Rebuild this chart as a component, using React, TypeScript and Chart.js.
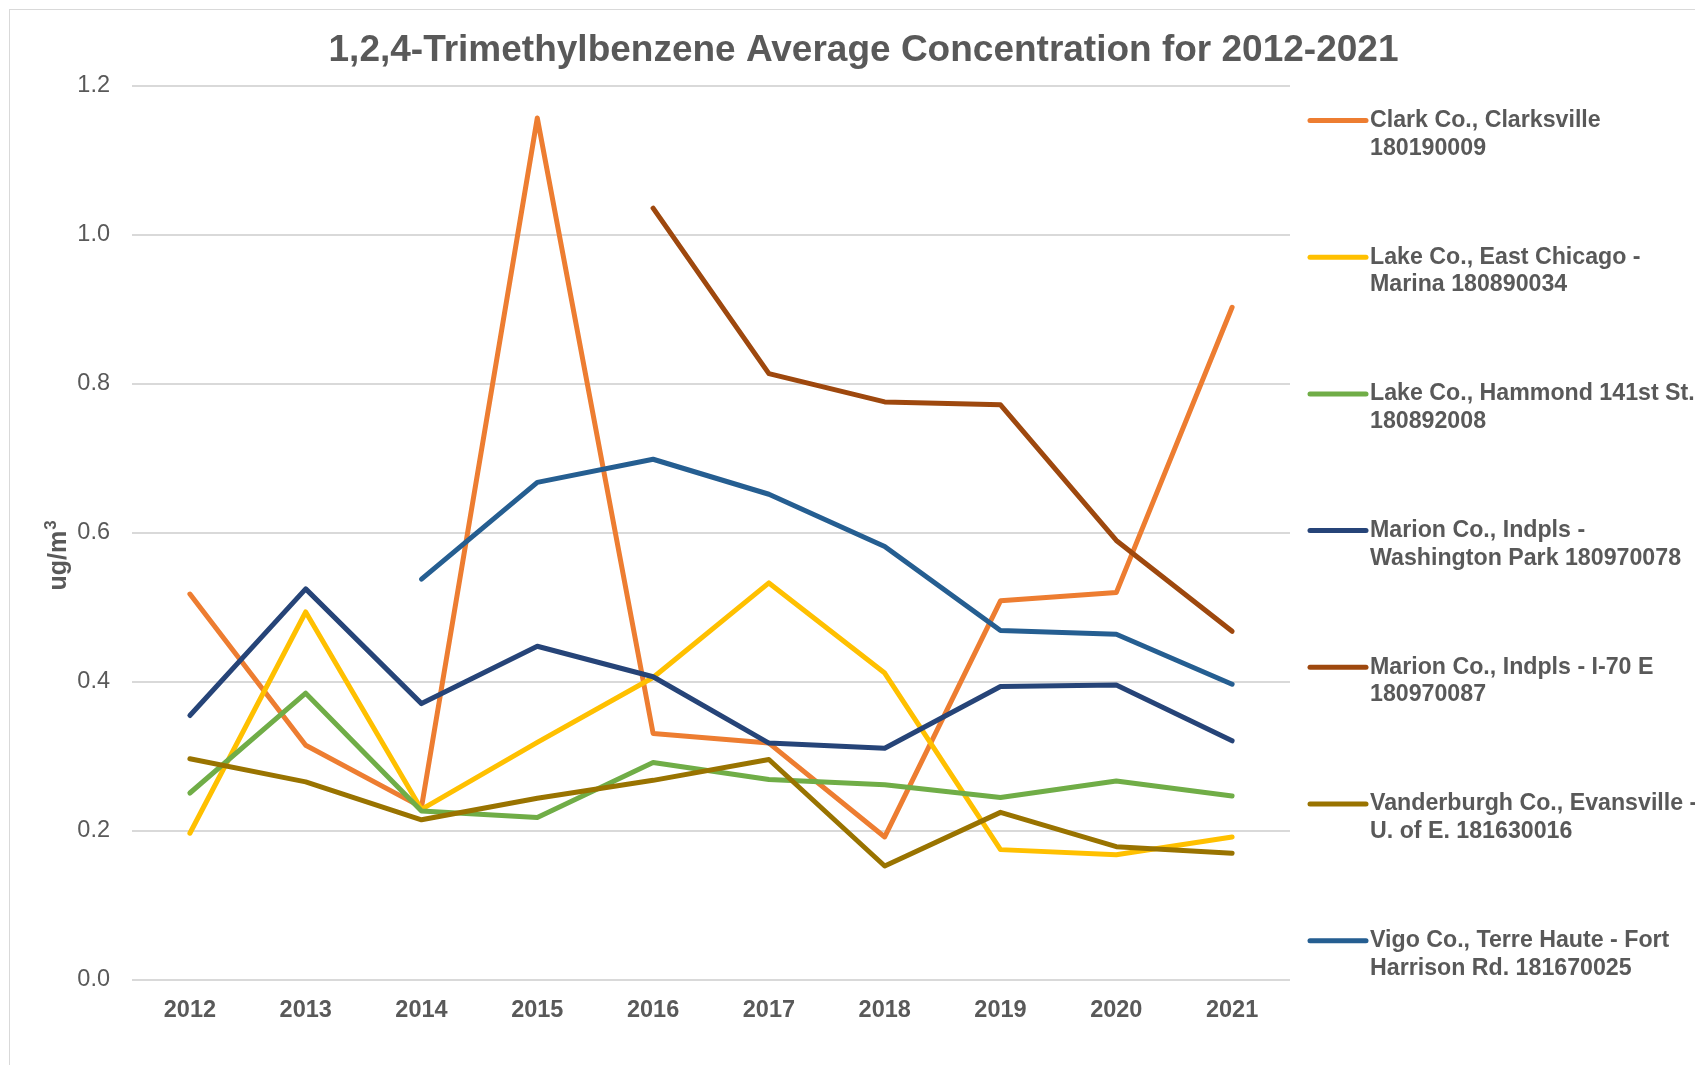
import React, { useEffect, useRef } from "react";
import { Chart, registerables } from "chart.js";

Chart.register(...registerables);

const FONT = "'Liberation Sans', Arial, Helvetica, sans-serif";
const TEXT_COLOR = "#595959";

const titleText = "1,2,4-Trimethylbenzene Average Concentration for 2012-2021";
const yTitleMain = "ug/m";
const yTitleSup = "3";

const years = ["2012", "2013", "2014", "2015", "2016", "2017", "2018", "2019", "2020", "2021"];
const yTicks = [0, 0.2, 0.4, 0.6, 0.8, 1.0, 1.2];

const clarkClarksville = [0.518, 0.315, 0.232, 1.157, 0.331, 0.318, 0.192, 0.509, 0.52, 0.903];
const lakeEastChicago = [0.197, 0.494, 0.229, 0.319, 0.406, 0.533, 0.412, 0.175, 0.168, 0.192];
const lakeHammond = [0.251, 0.385, 0.227, 0.218, 0.292, 0.269, 0.262, 0.245, 0.267, 0.247];
const marionWashingtonPark = [0.355, 0.525, 0.371, 0.448, 0.407, 0.318, 0.311, 0.394, 0.396, 0.321];
const marionI70 = [null, null, null, null, 1.036, 0.814, 0.776, 0.772, 0.59, 0.468];
const vanderburghEvansville = [0.297, 0.266, 0.215, 0.244, 0.268, 0.296, 0.153, 0.225, 0.179, 0.17];
const vigoTerreHaute = [null, null, 0.538, 0.668, 0.699, 0.652, 0.582, 0.469, 0.464, 0.397];

const seriesLabelLines: string[][] = [
  ["Clark Co., Clarksville", "180190009"],
  ["Lake Co., East Chicago -", "Marina 180890034"],
  ["Lake Co., Hammond 141st St.", "180892008"],
  ["Marion Co., Indpls -", "Washington Park 180970078"],
  ["Marion Co., Indpls - I-70 E", "180970087"],
  ["Vanderburgh Co., Evansville -", "U. of E. 181630016"],
  ["Vigo Co., Terre Haute - Fort", "Harrison Rd. 181670025"],
];
const seriesColors = ["#ED7D31", "#FFC000", "#70AD47", "#264478", "#9E480E", "#997300", "#255E91"];
const seriesValues = [
  clarkClarksville,
  lakeEastChicago,
  lakeHammond,
  marionWashingtonPark,
  marionI70,
  vanderburghEvansville,
  vigoTerreHaute,
];

const decorPlugin = {
  id: "excelDecor",
  afterDraw(chart: any) {
    const { ctx, chartArea } = chart;
    ctx.save();
    ctx.fillStyle = TEXT_COLOR;

    // Title
    ctx.font = `bold 37px ${FONT}`;
    ctx.textAlign = "center";
    ctx.textBaseline = "middle";
    ctx.fillText(titleText, 853.5, 40.5);

    // Y axis title (rotated, with superscript)
    ctx.save();
    ctx.translate(49, 546);
    ctx.rotate(-Math.PI / 2);
    ctx.font = `bold 25px ${FONT}`;
    const w1 = ctx.measureText(yTitleMain).width;
    ctx.font = `bold 17px ${FONT}`;
    const w2 = ctx.measureText(yTitleSup).width;
    const start = -(w1 + w2) / 2;
    ctx.textAlign = "left";
    ctx.font = `bold 25px ${FONT}`;
    ctx.fillText(yTitleMain, start, 0);
    ctx.font = `bold 17px ${FONT}`;
    ctx.fillText(yTitleSup, start + w1 + 1, -8);
    ctx.restore();

    // Legend
    const x0 = chartArea.right + 20;
    const x1 = chartArea.right + 76;
    const tx = chartArea.right + 80;
    const yStart = chartArea.top + 34.5;
    const step = 136.7;
    const lh = 27.7;
    chart.data.datasets.forEach((ds: any, i: number) => {
      const y = yStart + i * step;
      ctx.beginPath();
      ctx.strokeStyle = ds.borderColor;
      ctx.lineWidth = 5;
      ctx.lineCap = "round";
      ctx.moveTo(x0, y);
      ctx.lineTo(x1, y);
      ctx.stroke();
      ctx.fillStyle = TEXT_COLOR;
      ctx.font = `bold 23.2px ${FONT}`;
      ctx.textAlign = "left";
      ctx.textBaseline = "middle";
      seriesLabelLines[i].forEach((line, j) => {
        ctx.fillText(line, tx, y + j * lh);
      });
    });
    ctx.restore();
  },
};

export default function App() {
  const canvasRef = useRef<HTMLCanvasElement | null>(null);

  useEffect(() => {
    document.body.style.overflow = "hidden";
    const canvas = canvasRef.current;
    if (!canvas) return;
    const chart = new Chart(canvas, {
      type: "line",
      data: {
        labels: years,
        datasets: seriesValues.map((vals, i) => ({
          label: seriesLabelLines[i].join(" "),
          data: vals,
          borderColor: seriesColors[i],
          backgroundColor: seriesColors[i],
          borderWidth: 5,
          pointRadius: 0,
          pointHoverRadius: 0,
          tension: 0,
          fill: false,
          spanGaps: false,
          borderCapStyle: "round",
          borderJoinStyle: "round",
          order: seriesValues.length - 1 - i,
        })),
      },
      options: {
        responsive: false,
        animation: false,
        devicePixelRatio: 1,
        layout: { padding: { top: 76, left: 0, right: 429, bottom: 0 } },
        plugins: {
          legend: { display: false },
          title: { display: false },
          tooltip: { enabled: false },
        },
        events: [],
        scales: {
          x: {
            type: "category",
            offset: true,
            grid: { display: false, drawTicks: false },
            border: { display: false },
            ticks: {
              color: TEXT_COLOR,
              font: { family: FONT, size: 23.5, weight: "bold" },
              padding: 16,
              maxRotation: 0,
              autoSkip: false,
            },
            afterFit: (s: any) => {
              s.height = 110;
            },
          },
          y: {
            min: 0,
            max: 1.2,
            grid: { color: "#d9d9d9", lineWidth: 2, drawTicks: false },
            border: { display: false },
            ticks: {
              color: TEXT_COLOR,
              font: { family: FONT, size: 23.5 },
              padding: 22,
              callback: (v: any) => Number(v).toFixed(1),
            },
            afterBuildTicks: (s: any) => {
              s.ticks = yTicks.map((v) => ({ value: v }));
            },
            afterFit: (s: any) => {
              s.width = 122;
            },
          },
        },
      },
      plugins: [decorPlugin],
    } as any);
    return () => chart.destroy();
  }, []);

  return (
    <div style={{ width: 1695, height: 1057, overflow: "hidden", position: "relative", background: "#fff" }}>
      <div
        style={{
          marginLeft: 1,
          marginTop: 1,
          width: 1709,
          height: 1080,
          border: "1px solid #d9d9d9",
        }}
      >
        <canvas ref={canvasRef} width={1709} height={1080} style={{ display: "block", width: 1709, height: 1080 }} />
      </div>
    </div>
  );
}
